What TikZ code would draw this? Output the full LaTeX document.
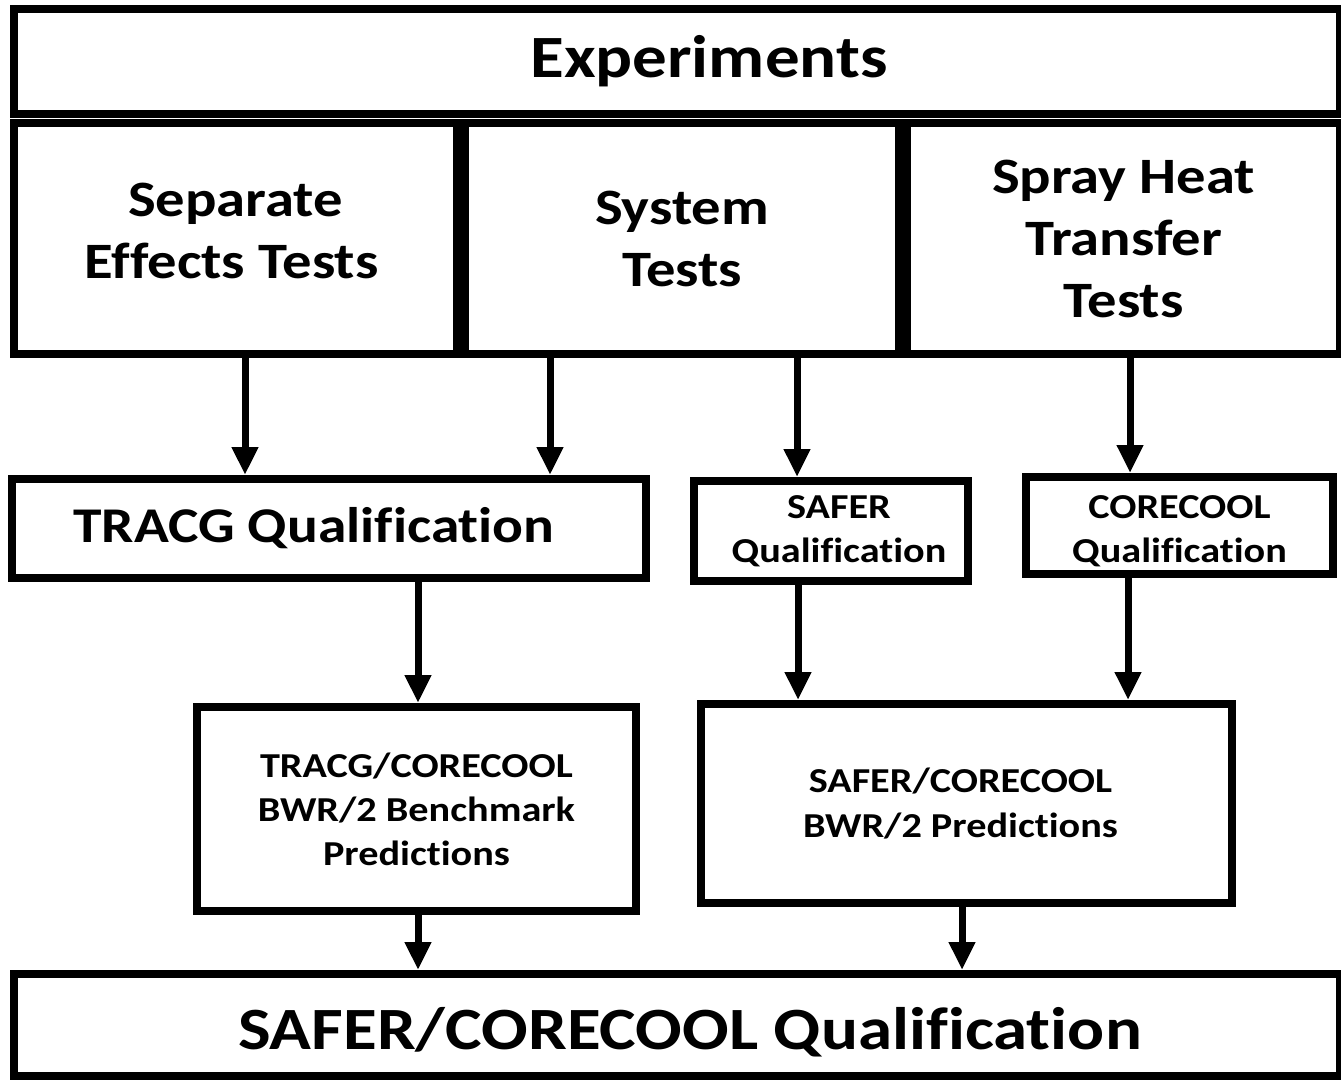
\documentclass[tikz,border=0pt]{standalone}
\usepackage{fontspec}
\setmainfont{Carlito}[FakeStretch=1.15,Ligatures=NoCommon]
\usetikzlibrary{arrows.meta}
\tikzset{
  box/.style={draw=black, line width=8pt, fill=white, inner sep=0pt, align=center, font=\bfseries},
  arr/.style={draw=black, line width=7pt, -{Triangle[width=25pt,length=28pt]}},
}
\newcommand{\fs}[2]{\fontsize{#1pt}{#2pt}\selectfont}
\begin{document}
\begin{tikzpicture}[x=1pt,y=-1pt]
\useasboundingbox (0,0) rectangle (1341,1083);
\fill[white] (0,0) rectangle (1341,1083);
% top row
\node[box, minimum width=1326pt, minimum height=105pt, font=\bfseries\fs{60}{62}] (exp) at (677,61.5) {\hspace*{64pt}Experiments\rule[-4pt]{0pt}{0pt}};
\node[box, minimum width=443pt, minimum height=231pt, font=\bfseries\fs{51}{62}] (set) at (235.5,238.5) {Separate\\\hspace*{-8pt}Effects Tests\rule[-16pt]{0pt}{0pt}};
\node[box, minimum width=434pt, minimum height=231pt, font=\bfseries\fs{51}{62}] (sys) at (682,238.5) {System\\Tests};
\node[box, minimum width=433pt, minimum height=231pt, font=\bfseries\fs{51}{62}] (spr) at (1123.5,238.5) {Spray Heat\\Transfer\\Tests};
% second row
\node[box, minimum width=634pt, minimum height=99pt, font=\bfseries\fs{50}{50}] (tq) at (329,528.5) {TRACG Qualification\hspace*{30pt}};
\node[box, minimum width=274pt, minimum height=100pt, font=\bfseries\fs{35}{44}] (sq) at (831,531) {\hspace*{16pt}SAFER\\\hspace*{16pt}Qualification};
\node[box, minimum width=307pt, minimum height=97pt, font=\bfseries\fs{35}{44}] (cq) at (1179.5,525.5) {\rule{0pt}{34pt}CORECOOL\\Qualification};
% third row
\node[box, minimum width=439pt, minimum height=204pt, font=\bfseries\fs{35}{44}] (tb) at (416.5,809) {TRACG/CORECOOL\\BWR/2 Benchmark\\Predictions};
\node[box, minimum width=531pt, minimum height=199pt, font=\bfseries\fs{35}{45}] (sb) at (966.5,803.5) {SAFER/CORECOOL\hspace*{12pt}\\BWR/2 Predictions\hspace*{12pt}};
% bottom
\node[box, minimum width=1326pt, minimum height=102pt, font=\bfseries\fs{60}{62}] (fin) at (677,1025) {\rule{0pt}{56pt}\hspace*{26pt}SAFER/CORECOOL Qualification};
% arrow columns
\coordinate (c1) at (245,0);
\coordinate (c2) at (550,0);
\coordinate (c3) at (797,0);
\coordinate (c4) at (1130,0);
\coordinate (c5) at (418,0);
\coordinate (c6) at (798,0);
\coordinate (c7) at (1128,0);
\coordinate (c8) at (962,0);
\draw[arr] (set.south -| c1) -- (tq.north -| c1);
\draw[arr] (sys.south -| c2) -- (tq.north -| c2);
\draw[arr] (sys.south -| c3) -- (sq.north -| c3);
\draw[arr] (spr.south -| c4) -- (cq.north -| c4);
\draw[arr] (tq.south -| c5) -- (tb.north -| c5);
\draw[arr] (sq.south -| c6) -- (sb.north -| c6);
\draw[arr] (cq.south -| c7) -- (sb.north -| c7);
\draw[arr] (tb.south -| c5) -- (fin.north -| c5);
\draw[arr] (sb.south -| c8) -- (fin.north -| c8);
\end{tikzpicture}
\end{document}
